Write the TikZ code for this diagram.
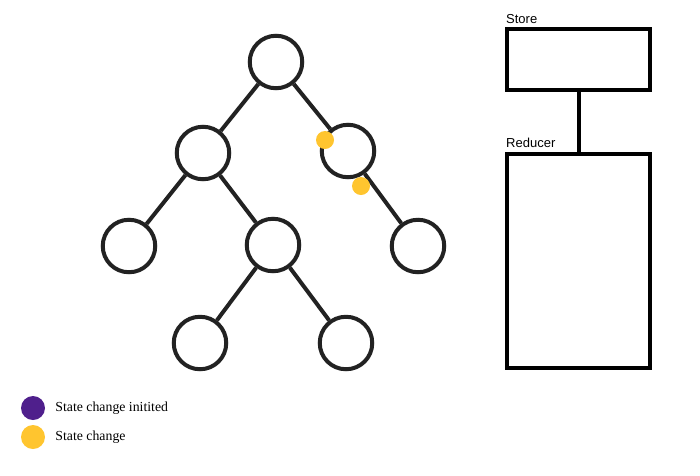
\documentclass[tikz,border=0pt]{standalone}
\usepackage{fontspec}
\setmainfont{Liberation Serif}
\newfontfamily\labelfont{Liberation Sans}
\definecolor{treeGray}{HTML}{222222}
\definecolor{initPurple}{HTML}{4F1F8C}
\definecolor{changeYellow}{HTML}{FFC52F}
\usetikzlibrary{positioning}

\begin{document}
\begin{tikzpicture}[x=1pt, y=-1pt,
    comp/.style={circle, draw=treeGray, line width=4pt, minimum size=52.5pt, inner sep=0pt},
    link/.style={draw=treeGray, line width=4pt},
    dot/.style={circle, fill=#1, minimum size=18pt, inner sep=0pt},
    bigdot/.style={circle, fill=#1, minimum size=24pt, inner sep=0pt},
    box/.style={draw=black, line width=4.5pt, minimum width=143pt, inner sep=0pt}]
    \useasboundingbox (0,0) rectangle (700,475);
    % Component tree
    \node[comp] (root) at (276,62) {};
    \node[comp] (left) at (203,153) {};
    \node[comp] (right) at (348,151) {};
    \node[comp] (leftleft) at (129,246) {};
    \node[comp] (leftright) at (273,245) {};
    \node[comp] (rightright) at (418,246) {};
    \node[comp] (leaf1) at (200,343) {};
    \node[comp] (leaf2) at (346,343) {};
    \draw[link] (root) -- (left);
    \draw[link] (root) -- (right);
    \draw[link] (left) -- (leftleft);
    \draw[link] (left) -- (leftright);
    \draw[link] (right) -- (rightright);
    \draw[link] (leftright) -- (leaf1);
    \draw[link] (leftright) -- (leaf2);
    % State changes
    \node[dot=changeYellow] (change1) at (325,140) {};
    \node[dot=changeYellow] (change2) at (361,186) {};
    % Store and reducer
    \node[box, minimum height=61pt] (store) at (578.5,59.5) {};
    \node[box, minimum height=214pt] (reducer) at (578.5,261) {};
    \draw[link, draw=black] (store) -- (reducer);
    \node[anchor=south west, inner sep=0pt, font=\labelfont\fontsize{13}{15}\selectfont] (storelbl) at (506,24) {Store};
    \node[anchor=south west, inner sep=0pt, font=\labelfont\fontsize{13}{15}\selectfont] (reducerlbl) at (506,148) {Reducer};
    % Legend
    \node[bigdot=initPurple] (keyinit) at (33,408) {};
    \node[bigdot=changeYellow] (keychange) at (33,437) {};
    \node[right=10pt of keyinit, inner sep=0pt, font=\fontsize{13.8}{16}\selectfont] (keyinitlbl) {State change initited};
    \node[right=10pt of keychange, inner sep=0pt, font=\fontsize{13.8}{16}\selectfont] (keychangelbl) {State change};
\end{tikzpicture}
\end{document}
